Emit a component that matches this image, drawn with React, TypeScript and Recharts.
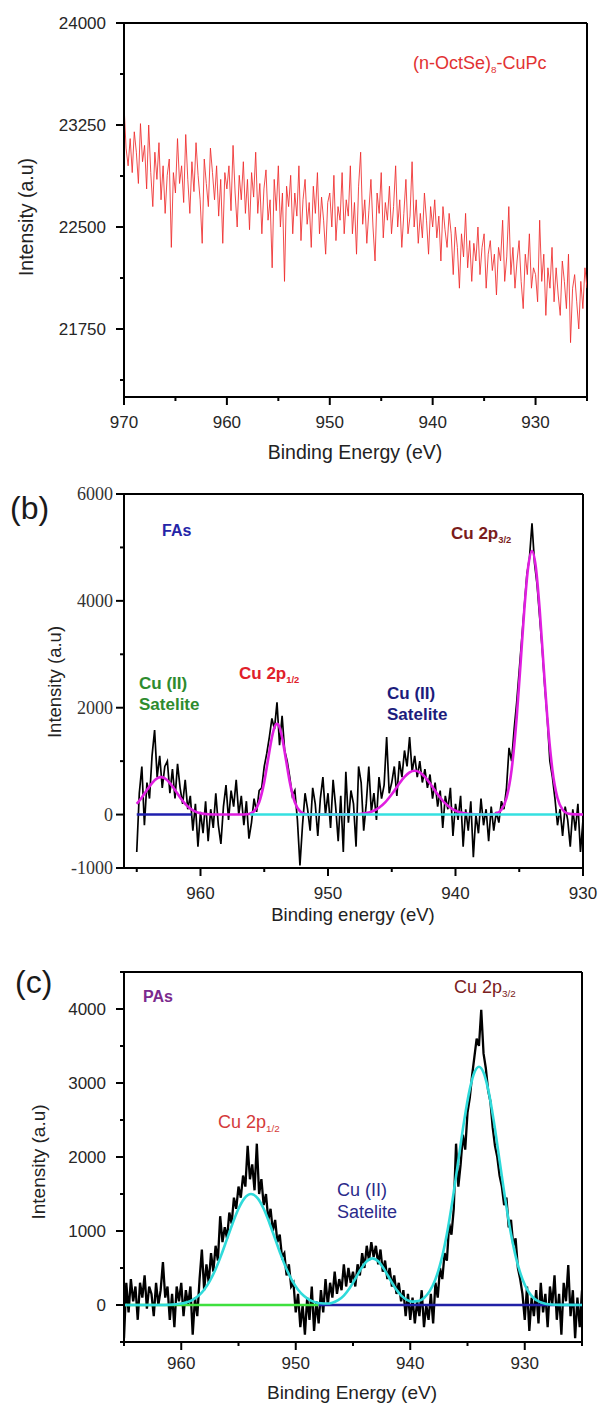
import React from 'react';
import { LineChart, Line, XAxis, YAxis, ReferenceLine } from 'recharts';

// ---------- (a) (n-OctSe)8-CuPc, 970 -> 925 eV, 0.2 eV steps ----------
const OCTSE_START = 970;
const OCTSE_STEP = 0.2;
const octSeCounts = [
  23400, 23080, 22950, 23150, 22900, 23200, 23050, 22820, 23260, 22980,
  23100, 22780, 23250, 22900, 22650, 23050, 22850, 23120, 22700, 22950,
  22600, 22880, 23000, 22350, 22900, 22750, 23150, 22820, 22950, 22680,
  23180, 22850, 22600, 22980, 22760, 23120, 22880, 22700, 22380, 23000,
  22820, 22650, 23080, 22900, 22700, 22950, 22580, 22850, 22380, 22900,
  22780, 22950, 22620, 23100, 22750, 22500, 22880, 22700, 22980, 22600,
  22850, 22480, 22900, 22720, 23050, 22600, 22820, 22450, 22780, 22920,
  22550, 22700, 22200, 22850, 22620, 22950, 22500, 22750, 22100, 22800,
  22650, 22880, 22450, 22750, 22580, 22950, 22400, 22700, 22850, 22520,
  22680, 22350, 22800, 22600, 22900, 22450, 22720, 22550, 22300, 22680,
  22750, 22500, 22880, 22400, 22650, 22550, 22900, 22450, 22700, 22580,
  22950, 22450, 22680, 22300, 22800, 23050, 22520, 22700, 22380, 22620,
  22850, 22500, 22250, 22750, 22600, 22900, 22420, 22680, 22550, 22800,
  22450, 22650, 22950, 22500, 22700, 22350, 22600, 22850, 22450, 22580,
  22980, 22500, 22700, 22380, 22600, 22420, 22750, 22550, 22300, 22650,
  22500, 22700, 22420, 22580, 22250, 22650, 22480, 22350, 22600, 22450,
  22150, 22500, 22350, 22050, 22450, 22280, 22600, 22200, 22400, 22100,
  22380, 22250, 22500, 22150, 22350, 22450, 22050, 22300, 22400, 22180,
  22300, 22000, 22350, 22250, 22550, 22100, 22280, 22650, 22150, 22350,
  22050, 22250, 22400, 22100, 21900, 22300, 22150, 22450, 22050, 22200,
  22150, 21950, 22550, 22100, 22300, 21850, 22200, 22050, 22350, 21950,
  22200, 22000, 21850, 22250, 22100, 21900, 22300, 21650, 22050, 22150,
  21950, 21750, 22100, 21900, 22200, 22050,
];

// ---------- (b) FAs, 965 -> 930 eV, 0.2 eV steps ----------
const FAS_START = 965;
const FAS_STEP = 0.2;
const fasCounts = [
  -700, 400, 900, -200, 600, 300, 1100, 1580, 700, 1100, 500, 900, 1000, 400, 850, 300, 950, 500, 200, 650,
  100, 350, -300, 200, -600, 50, -350, 250, -500, 100, -250, 400, -200, -550, 150, 550, -100, 450, 150, 650,
  0, 350, -200, 250, -450, -150, 300, 50, 450, 500, 900, 1150, 1450, 1800, 1600, 2100, 1300, 1850, 1200, 1000,
  700, 350, 450, -100, -950, -200, 400, 100, -300, 500, 200, -400, 300, 700, 0, 400, -250, 650, 150, -500,
  350, -700, 800, -150, 450, 200, -600, 900, 600, -300, 200, 900, 50, 400, -100, 700, 300, 550, 1450, 400,
  600, 900, 350, 1000, 700, 1200, 900, 1450, 800, 1100, 700, 1000, 600, 850, 500, 750, 300, 600, 150, 450,
  -250, 350, 100, 500, -400, 200, -100, 350, -600, 100, -300, 250, -800, 0, -350, 300, -200, 100, -500, 150,
  -300, 50, -150, 250, 100, 500, 1250, 1000, 1600, 2100, 2700, 3300, 3900, 4500, 4800, 5450, 4700, 4300, 3700, 3100,
  2400, 1800, 1000, 700, 300, -200, 100, -400, 150, -100, -600, 100, -300, 200, -700, -100,
];
// fitted envelope (sum of the four peaks)
const fasFitE = [
  965, 964.6, 964.2, 963.8, 963.4, 963.1, 962.8, 962.4, 962.0, 961.6, 961.2, 960.8, 960.4, 960.0, 959.4, 958.5,
  957.0, 956.6, 956.2, 955.8, 955.4, 955.0, 954.7, 954.4, 954.2, 954.0, 953.8, 953.6, 953.3, 953.0, 952.6, 952.2,
  951.8, 951.2, 948.5, 947.5, 947.0, 946.5, 946.0, 945.5, 945.0, 944.5, 944.0, 943.6, 943.2, 942.8, 942.4, 941.9,
  941.4, 940.9, 940.4, 939.9, 939.4, 938.9, 938.0, 937.2, 936.8, 936.4, 936.0, 935.6, 935.2, 934.9, 934.6, 934.3,
  934.0, 933.7, 933.4, 933.1, 932.8, 932.4, 932.0, 931.6, 931.2, 930.5, 930.0,
];
const fasFitV = [
  200, 320, 460, 590, 678, 700, 678, 590, 460, 320, 200, 111, 56, 25, 6, 0,
  0, 2, 12, 62, 230, 612, 1031, 1444, 1632, 1700, 1632, 1444, 1031, 612, 230, 62,
  12, 0, 3, 10, 27, 62, 127, 233, 380, 549, 704, 789, 820, 789, 704, 549,
  380, 233, 127, 62, 27, 10, 1, 2, 22, 91, 310, 838, 1820, 2813, 3844, 4632,
  4930, 4632, 3844, 2813, 1820, 838, 310, 91, 22, 3, 0,
];

// ---------- (c) PAs, 965 -> 925 eV, 0.2 eV steps ----------
const PAS_START = 965;
const PAS_STEP = 0.2;
const pasCounts = [
  -450, 300, -100, 350, 50, 250, -200, 300, 100, 400, -50, 250, 150, -150, 300, 0, 200, 580, 100, 250,
  -200, 150, -300, 250, 50, 300, -150, 200, 0, 250, -400, 100, -150, 350, 750, 200, 550, 300, 700, 450,
  800, 600, 1200, 850, 1050, 900, 1250, 1100, 1450, 1300, 1600, 1450, 1750, 1600, 2150, 1700, 1900, 1550, 2180, 1500,
  1700, 1350, 1500, 1150, 1300, 1000, 1150, 850, 950, 650, 700, 400, 550, 250, 300, -100, 150, -300, 0, -400,
  100, -200, 250, -350, 50, -250, 200, -100, 350, 0, 300, 100, 450, 150, 350, 200, 550, 250, 500, 300,
  450, 250, 550, 400, 700, 500, 800, 600, 850, 650, 800, 550, 750, 450, 600, 350, 500, 250, 400, 150,
  300, 50, 200, -150, 150, -200, 100, -250, 50, -150, 200, -300, 0, -200, 150, -250, 300, 100, 500, 350,
  700, 600, 1100, 950, 1300, 2180, 1600, 1900, 2300, 2100, 2600, 2800, 3100, 3350, 3600, 3500, 3990, 3400, 3200, 2900,
  2750, 2400, 2150, 2000, 1750, 1600, 1350, 1450, 1050, 1150, 800, 900, 500, 350, 150, -200, 250, -350, 100, -150,
  200, -250, 300, -100, 150, -300, 250, 0, 400, -200, 150, -400, 300, 50, 540, -150, 200, -450, 100, -300,
  200,
];
const pasFitE = [
  965, 962, 961, 960, 959.5, 959, 958.5, 958, 957.5, 957, 956.5, 956, 955.5, 955, 954.5, 953.9,
  953.3, 952.8, 952.3, 951.8, 951.3, 950.8, 950.3, 949.8, 949.3, 948.8, 948.3, 947.8, 947.3, 946.8, 946.3, 945.8,
  945.3, 944.8, 944.3, 943.8, 943.3, 942.8, 942.3, 941.8, 941.3, 940.8, 940.3, 939.8, 939.3, 938.8, 938.3, 937.8,
  937.3, 936.8, 936.3, 935.8, 935.3, 934.8, 934.4, 934.0, 933.6, 933.2, 932.7, 932.2, 931.7, 931.2, 930.7, 930.2,
  929.7, 929.2, 928.7, 928.2, 927.7, 927.0, 925,
];
const pasFitV = [
  0, 1, 4, 19, 37, 70, 125, 207, 326, 483, 677, 893, 1109, 1301, 1438, 1500,
  1438, 1301, 1109, 893, 677, 483, 326, 207, 125, 70, 38, 23, 20, 32, 65, 128,
  227, 355, 488, 591, 630, 591, 488, 355, 227, 131, 70, 46, 53, 96, 187, 348,
  599, 960, 1424, 1953, 2481, 2917, 3142, 3220, 3142, 2917, 2481, 1953, 1424, 960, 599, 348,
  186, 92, 42, 18, 7, 2, 0,
];

// axis ticks
const aXMajor = [970, 960, 950, 940, 930];
const aXMinor = [965, 955, 945, 935, 925];
const aYMajor = [21750, 22500, 23250, 24000];
const aYMinor = [21375, 22125, 22875, 23625];
const bXMajor = [960, 950, 940, 930];
const bXMinor = [965, 955, 945, 935];
const bYMajor = [-1000, 0, 2000, 4000, 6000];
const bYMinor = [1000, 3000, 5000];
const cXMajor = [960, 950, 940, 930];
const cXMinor = [965, 955, 945, 935, 925];
const cYMajor = [0, 1000, 2000, 3000, 4000];
const cYMinor = [-500, 500, 1500, 2500, 3500, 4500];

type Pt = { e: number; v: number };
const series = (start: number, step: number, vals: number[]): Pt[] =>
  vals.map((v, i) => ({ e: Math.round((start - i * step) * 100) / 100, v }));
const pairs = (es: number[], vs: number[]): Pt[] => es.map((e, i) => ({ e, v: vs[i] }));
const flat = (from: number, to: number): Pt[] => [{ e: from, v: 0 }, { e: to, v: 0 }];

const octSeData = series(OCTSE_START, OCTSE_STEP, octSeCounts);
const fasData = series(FAS_START, FAS_STEP, fasCounts);
const fasFit = pairs(fasFitE, fasFitV);
const pasData = series(PAS_START, PAS_STEP, pasCounts);
const pasFit = pairs(pasFitE, pasFitV);

const SANS = '"Liberation Sans", Arial, sans-serif';
const SERIF = '"Liberation Serif", "Times New Roman", serif';

type TickStyle = { major: number[]; gap: number; font: string; size: number; color: string };

const makeXTick = (s: TickStyle) => (props: any) => {
  const { x, y, payload } = props;
  const isMajor = s.major.includes(payload.value);
  return (
    <g>
      <line x1={x} x2={x} y1={y} y2={y + (isMajor ? 8 : 4)} stroke="#000" strokeWidth={2} />
      {isMajor && (
        <text x={x} y={y + s.gap} textAnchor="middle" dominantBaseline="central"
          fontFamily={s.font} fontSize={s.size} fill={s.color}>
          {payload.value}
        </text>
      )}
    </g>
  );
};

const makeYTick = (s: TickStyle) => (props: any) => {
  const { x, y, payload } = props;
  const isMajor = s.major.includes(payload.value);
  return (
    <g>
      <line x1={x} x2={x - (isMajor ? 8 : 4)} y1={y} y2={y} stroke="#000" strokeWidth={2} />
      {isMajor && (
        <text x={x - s.gap} y={y} textAnchor="end" dominantBaseline="central"
          fontFamily={s.font} fontSize={s.size} fill={s.color}>
          {payload.value}
        </text>
      )}
    </g>
  );
};

const Note = ({ x, y, size, color, bold, children, family }: any) => (
  <div style={{
    position: 'absolute', left: x, top: y, transform: 'translateY(-50%)', fontSize: size, color,
    fontWeight: bold ? 700 : 400, lineHeight: 1, whiteSpace: 'nowrap', fontFamily: family || SANS,
  }}>{children}</div>
);

const Sub = ({ children }: any) => (
  <span style={{ fontSize: '0.55em', position: 'relative', top: '0.45em' }}>{children}</span>
);

const YTitle = ({ x, y, size, text }: any) => (
  <div style={{
    position: 'absolute', left: x, top: y, transform: 'translate(-50%, -50%) rotate(-90deg)',
    fontSize: size, color: '#222', whiteSpace: 'nowrap', lineHeight: 1, fontFamily: SANS,
  }}>{text}</div>
);

const XTitle = ({ x, y, size, text }: any) => (
  <div style={{
    position: 'absolute', left: x, top: y, transform: 'translate(-50%, -50%)',
    fontSize: size, color: '#222', whiteSpace: 'nowrap', lineHeight: 1, fontFamily: SANS,
  }}>{text}</div>
);

const frame = { stroke: '#000', strokeWidth: 2 };

export default function App() {
  return (
    <div style={{ position: 'absolute', left: 0, top: 0, width: 598, height: 1403, background: '#fff', fontFamily: SANS }}>
      {/* (a) */}
      <div style={{ position: 'absolute', left: 0, top: 0 }}>
        <LineChart width={598} height={470} margin={{ top: 23, right: 11, bottom: 0, left: 0 }}>
          <XAxis dataKey="e" type="number" domain={[925, 970]} reversed allowDataOverflow
            ticks={[...aXMajor, ...aXMinor]} interval={0} height={73} tickSize={0} tickMargin={0}
            tickLine={false} axisLine={frame}
            tick={makeXTick({ major: aXMajor, gap: 25, font: SANS, size: 17, color: '#262626' })} />
          <YAxis type="number" domain={[21250, 24000]} allowDataOverflow width={124}
            ticks={[...aYMajor, ...aYMinor]} interval={0} tickSize={0} tickMargin={0}
            tickLine={false} axisLine={frame}
            tick={makeYTick({ major: aYMajor, gap: 18, font: SANS, size: 17, color: '#262626' })} />
          <ReferenceLine y={24000} {...frame} />
          <ReferenceLine x={925} {...frame} />
          <Line data={octSeData} dataKey="v" type="linear" stroke="#ee2c2c" strokeWidth={1}
            strokeOpacity={0.85} dot={false} isAnimationActive={false} />
        </LineChart>
      </div>
      <Note x={413} y={63} size={18} color="#e23232">(n-OctSe)<Sub>8</Sub>-CuPc</Note>
      <YTitle x={27} y={217} size={19.5} text="Intensity (a.u)" />
      <XTitle x={355} y={453} size={19.5} text="Binding Energy (eV)" />

      {/* (b) */}
      <div style={{ position: 'absolute', left: 0, top: 470 }}>
        <LineChart width={598} height={470} margin={{ top: 24, right: 15, bottom: 0, left: 0 }}>
          <XAxis dataKey="e" type="number" domain={[930, 966]} reversed allowDataOverflow
            ticks={[...bXMajor, ...bXMinor]} interval={0} height={72} tickSize={0} tickMargin={0}
            tickLine={false} axisLine={frame}
            tick={makeXTick({ major: bXMajor, gap: 25, font: SANS, size: 17, color: '#262626' })} />
          <YAxis type="number" domain={[-1000, 6000]} allowDataOverflow width={124}
            ticks={[...bYMajor, ...bYMinor]} interval={0} tickSize={0} tickMargin={0}
            tickLine={false} axisLine={frame}
            tick={makeYTick({ major: bYMajor, gap: 11, font: SERIF, size: 18, color: '#333' })} />
          <ReferenceLine y={6000} {...frame} />
          <ReferenceLine x={930} {...frame} />
          <Line data={fasData} dataKey="v" type="linear" stroke="#000" strokeWidth={1.7}
            dot={false} isAnimationActive={false} />
          <Line data={fasFit} dataKey="v" type="monotone" stroke="#e01ee0" strokeWidth={2.6}
            dot={false} isAnimationActive={false} />
          <Line data={flat(965, 960.7)} dataKey="v" type="linear" stroke="#1f1fae" strokeWidth={2.6}
            dot={false} isAnimationActive={false} />
          <Line data={flat(956.1, 931.8)} dataKey="v" type="linear" stroke="#35e0e0" strokeWidth={2.6}
            dot={false} isAnimationActive={false} />
        </LineChart>
      </div>
      <Note x={10} y={508} size={32} color="#1a1a1a">(b)</Note>
      <Note x={162} y={531} size={16} color="#2525a8" bold>FAs</Note>
      <Note x={139} y={683} size={17} color="#2e8b2e" bold>Cu (II)</Note>
      <Note x={139} y={704} size={17} color="#2e8b2e" bold>Satelite</Note>
      <Note x={239} y={673} size={17} color="#e0202a" bold>Cu 2p<Sub>1/2</Sub></Note>
      <Note x={387} y={693} size={17} color="#1c1c7c" bold>Cu (II)</Note>
      <Note x={387} y={714} size={17} color="#1c1c7c" bold>Satelite</Note>
      <Note x={451} y={533} size={17} color="#7a1c1c" bold>Cu 2p<Sub>3/2</Sub></Note>
      <YTitle x={55} y={682} size={18.5} text="Intensity (a.u)" />
      <XTitle x={353} y={915} size={18.5} text="Binding energy (eV)" />

      {/* (c) */}
      <div style={{ position: 'absolute', left: 0, top: 940 }}>
        <LineChart width={598} height={463} margin={{ top: 32, right: 16, bottom: 0, left: 0 }}>
          <XAxis dataKey="e" type="number" domain={[925, 965]} reversed allowDataOverflow
            ticks={[...cXMajor, ...cXMinor]} interval={0} height={61} tickSize={0} tickMargin={0}
            tickLine={false} axisLine={frame}
            tick={makeXTick({ major: cXMajor, gap: 21, font: SANS, size: 17, color: '#262626' })} />
          <YAxis type="number" domain={[-500, 4500]} allowDataOverflow width={124}
            ticks={[...cYMajor, ...cYMinor]} interval={0} tickSize={0} tickMargin={0}
            tickLine={false} axisLine={frame}
            tick={makeYTick({ major: cYMajor, gap: 18, font: SANS, size: 17, color: '#262626' })} />
          <ReferenceLine y={4500} {...frame} />
          <ReferenceLine x={925} {...frame} />
          <Line data={pasData} dataKey="v" type="linear" stroke="#000" strokeWidth={2.3}
            dot={false} isAnimationActive={false} />
          <Line data={flat(965, 948)} dataKey="v" type="linear" stroke="#3ee03e" strokeWidth={2.6}
            dot={false} isAnimationActive={false} />
          <Line data={flat(948, 925)} dataKey="v" type="linear" stroke="#2121a6" strokeWidth={2.6}
            dot={false} isAnimationActive={false} />
          <Line data={pasFit} dataKey="v" type="monotone" stroke="#2fdada" strokeWidth={2.6}
            dot={false} isAnimationActive={false} />
        </LineChart>
      </div>
      <Note x={15} y={982} size={32} color="#1a1a1a">(c)</Note>
      <Note x={143} y={997} size={16} color="#7b2a8e" bold>PAs</Note>
      <Note x={218} y={1122} size={18} color="#d43a3a">Cu 2p<Sub>1/2</Sub></Note>
      <Note x={337} y={1190} size={18} color="#2a2a8a">Cu (II)</Note>
      <Note x={337} y={1212} size={18} color="#2a2a8a">Satelite</Note>
      <Note x={454} y={987} size={18} color="#7a2020">Cu 2p<Sub>3/2</Sub></Note>
      <YTitle x={38} y={1162} size={19} text="Intensity (a.u)" />
      <XTitle x={352} y={1392} size={19} text="Binding Energy (eV)" />
    </div>
  );
}
